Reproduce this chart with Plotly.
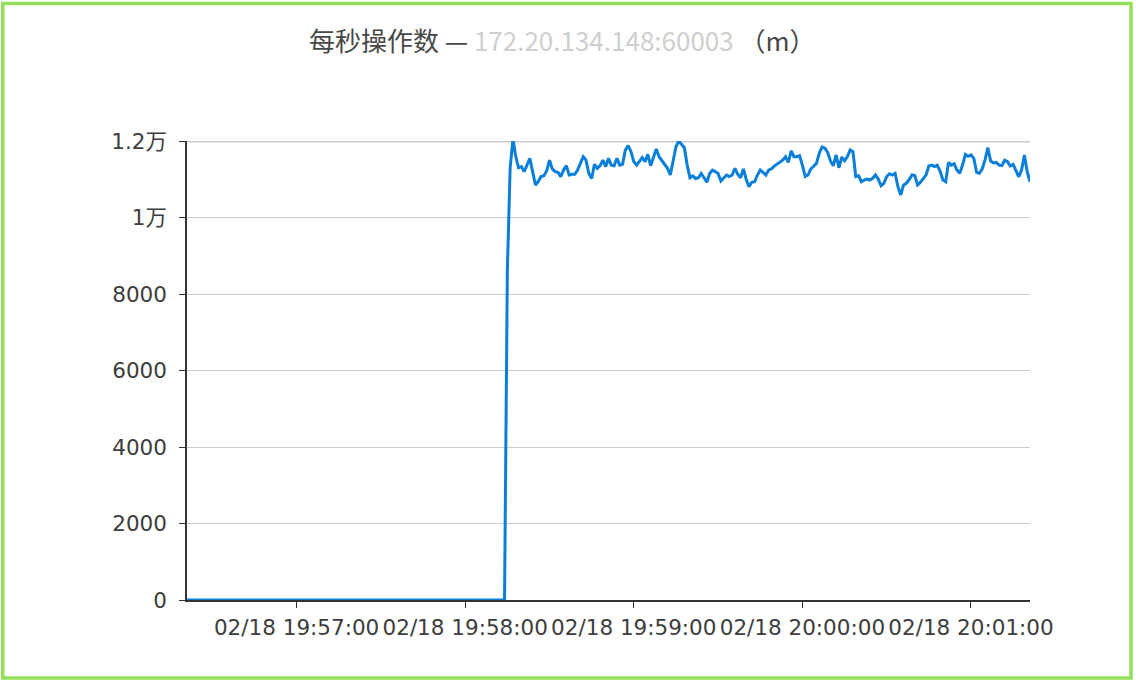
import pandas as pd
import plotly.graph_objects as go

# ---- data ----
start_time = "2024-02-18 19:56:21"   # first sample, 1-second interval
idle_values = [0] * 114              # 19:56:21 .. 19:58:14
active_a = [
    8600, 11300, 12050, 11590, 11300, 11330, 11200, 11390, 11550, 11200,
    10850, 10940, 11070, 11090, 11215, 11500, 11270, 11200, 11180, 11070,
    11240, 11355, 11110, 11130, 11130, 11240, 11440, 11590, 11500, 11150,
    11020, 11390, 11285, 11355, 11500, 11330, 11550, 11370, 11355, 11550,
    11370, 11390, 11765, 11880, 11720, 11460, 11370, 11480, 11565, 11460,
    11650, 11355, 11550, 11790, 11590, 11480, 11390, 11285, 11110, 11480,
]
active_b = [
    11850, 12000, 11910, 11825, 11370, 11040, 11090, 11020, 11040, 11150,
    11040, 10920, 11150, 11240, 11200, 11150, 10955, 11020, 11110, 11070,
    11110, 11285, 11130, 11040, 11270, 11000, 10805, 10920, 10935, 11110,
    11240, 11180, 11110, 11240, 11275, 11345, 11390, 11440, 11500, 11590,
    11440, 11740, 11590, 11590, 11615, 11370, 11070, 11110, 11270, 11340,
    11415, 11680, 11845, 11810, 11700, 11480, 11355, 11635, 11300, 11580,
    11485, 11590, 11765, 11720, 11070, 11090,
]
active_c = [
    10935, 10980, 11005, 10980, 11025, 11110, 11005, 10830, 10895, 11070,
    11145, 11110, 11155, 10805, 10590, 10850, 10895, 10990, 11110, 11095,
    10850, 10920, 11005, 11110, 11345, 11370, 11330, 11365, 11215, 10980,
    10935, 11440, 11370, 11405, 11240, 11155, 11370, 11650, 11600, 11635,
    11545, 11180, 11155, 11270, 11505, 11825, 11475, 11425, 11440, 11370,
    11355, 11495, 11460, 11345, 11390, 11225, 11065, 11240, 11635, 11200,
    10935,
]
values = idle_values + active_a + active_b + active_c
times = pd.date_range(start=start_time, periods=len(values), freq="s")

y_tickvals = [0, 2000, 4000, 6000, 8000, 10000, 12000]
y_ticktext = ["0", "2000", "4000", "6000", "8000", "1万", "1.2万"]
x_tick0 = "2024-02-18 19:57:00"

title_main = "每秒操作数 — "
title_host = "172.20.134.148:60003"
title_unit = " （m）"

# ---- layout geometry ----
W, H = 1136, 682
L, R, T, B = 187, 106, 141, 82
pw, ph = W - L - R, H - T - B

tick_font = dict(family="DejaVu Sans, Noto Sans CJK SC", size=21.5, color="#3d3d3d")

fig = go.Figure()
fig.add_trace(go.Scatter(
    x=times, y=values, mode="lines",
    line=dict(color="#0a7fd9", width=3),
    hoverinfo="x+y", showlegend=False,
))

fig.update_layout(
    width=W, height=H,
    margin=dict(l=L, r=R, t=T, b=B),
    paper_bgcolor="white", plot_bgcolor="white",
    title=dict(
        text=title_main + '<span style="color:#cfcfcf">' + title_host + "</span>" + title_unit,
        x=0.495, xanchor="center", xref="container",
        y=1 - 42 / H, yanchor="middle", yref="container",
        font=dict(family="Noto Sans CJK SC", size=26, color="#474747"),
    ),
    xaxis=dict(
        type="date",
        range=[times[0], times[-1]],
        tick0=x_tick0, dtick=60000,
        tickformat="%m/%d %H:%M:%S",
        showgrid=False, zeroline=False,
        showline=True, linecolor="#333333", linewidth=1.5,
        ticks="outside", ticklen=6, tickcolor="#333333", tickwidth=1.2,
        tickfont=tick_font, ticklabelstandoff=1,
    ),
    yaxis=dict(
        range=[0, 12000],
        tickvals=y_tickvals, ticktext=y_ticktext,
        showgrid=True, gridcolor="#cccccc", gridwidth=1,
        zeroline=False,
        showline=True, linecolor="#333333", linewidth=1.5,
        ticks="outside", ticklen=6, tickcolor="#333333", tickwidth=1.2,
        tickfont=tick_font, ticklabelstandoff=8,
    ),
    shapes=[
        dict(type="line", xref="paper", yref="y", x0=0, x1=1, y0=12000, y1=12000,
             line=dict(color="#cccccc", width=3), layer="below"),
        dict(type="rect", xref="paper", yref="paper",
             x0=(2.7 - L) / pw, x1=(1131 - L) / pw,
             y0=(H - B - 678) / ph, y1=(H - B - 3.6) / ph,
             line=dict(color="#92e058", width=3.5), fillcolor="rgba(0,0,0,0)", layer="above"),
    ],
)

fig.write_html(
    "out.html",
    config={"displayModeBar": False},
    post_script="document.body.style.margin='0';document.body.style.overflow='hidden';",
)
